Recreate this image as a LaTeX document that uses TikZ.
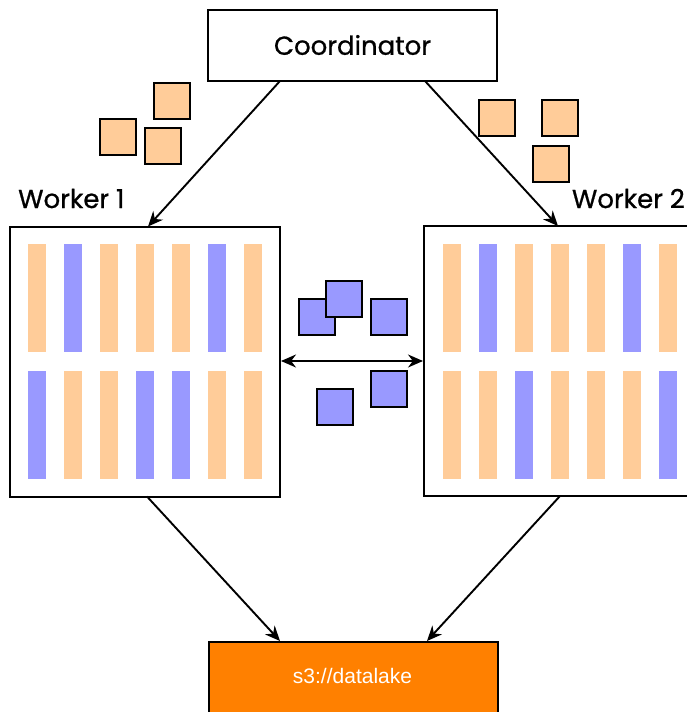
\documentclass[tikz,border=0pt]{standalone}
\usepackage{fontspec}
\newfontfamily\titlefont[FakeBold=0.8]{Poppins}
\newfontfamily\pathfont{Liberation Sans}
\usetikzlibrary{arrows.meta}
\definecolor{peach}{HTML}{FFCC99}
\definecolor{lilac}{HTML}{9999FF}
\definecolor{lakeorange}{HTML}{FF8000}
\tikzset{
  box/.style={draw=black, line width=2pt, fill=white, rectangle, inner sep=0pt},
  chunk/.style={draw=black, line width=1.8pt, minimum size=36pt, inner sep=0pt, anchor=north west},
  bar/.style={minimum width=18pt, minimum height=108pt, inner sep=0pt, anchor=north west},
  flow/.style={line width=1.9pt, -{Stealth[length=15pt,width=13pt]}},
  both/.style={line width=1.9pt, {Stealth[length=15pt,width=13pt]}-{Stealth[length=15pt,width=13pt]}},
  title/.style={font=\titlefont\fontsize{26}{30}\selectfont, inner sep=0pt}
}
\begin{document}
\begin{tikzpicture}[x=1pt, y=-1pt]
\useasboundingbox (0,0) rectangle (687,712);
\clip (0,0) rectangle (687,712);

% coordinator
\node[box, minimum width=289pt, minimum height=71pt] (coord) at (352.5,45.5) {};
\node[title] (coordtext) at (352.5,45) {Coordinator};

% workers
\node[box, minimum width=270pt, minimum height=270pt] (w1) at (145,361.5) {};
\node[box, minimum width=270pt, minimum height=270pt] (w2) at (559,361) {};
\node[title, anchor=base west] (w1lbl) at (18,208) {Worker 1};
\node[title, anchor=base east] (w2lbl) at (685,208) {Worker 2};

% column chunks inside the workers
\foreach \c [count=\i from 0] in {peach,lilac,peach,peach,peach,lilac,peach}
  \node[bar, fill=\c] (w1a\i) at (28+36*\i,244) {};
\foreach \c [count=\i from 0] in {lilac,peach,peach,lilac,lilac,peach,peach}
  \node[bar, fill=\c] (w1b\i) at (28+36*\i,371) {};
\foreach \c [count=\i from 0] in {peach,lilac,peach,peach,peach,lilac,peach}
  \node[bar, fill=\c] (w2a\i) at (443+36*\i,244) {};
\foreach \c [count=\i from 0] in {peach,peach,lilac,peach,peach,peach,lilac}
  \node[bar, fill=\c] (w2b\i) at (443+36*\i,371) {};

% storage
\node[box, fill=lakeorange, minimum width=289pt, minimum height=76pt, anchor=north west] (s3) at (208,641) {};
\node[font=\pathfont\fontsize{21}{24}\selectfont, text=white, inner sep=0pt, anchor=base] (s3text) at (352.5,683) {s3://datalake};

% work assigned by the coordinator
\node[chunk, fill=peach] (pa) at (153,82) {};
\node[chunk, fill=peach] (pb) at (99,118) {};
\node[chunk, fill=peach] (pc) at (144,127) {};
\node[chunk, fill=peach] (pd) at (478,99) {};
\node[chunk, fill=peach] (pe) at (541,99) {};
\node[chunk, fill=peach] (pf) at (532,145) {};

% data exchanged between workers
\node[chunk, fill=lilac] (ba) at (298,298) {};
\node[chunk, fill=lilac] (bb) at (325,280) {};
\node[chunk, fill=lilac] (bc) at (370,298) {};
\node[chunk, fill=lilac] (bd) at (370,370) {};
\node[chunk, fill=lilac] (be) at (316,388) {};

% connector end points on the box borders
\coordinate (cl) at (280,81);
\coordinate (cr) at (425,81);
\coordinate (w1top) at (148,226.5);
\coordinate (w2top) at (558,226);
\coordinate (w1bot) at (147,496.5);
\coordinate (w2bot) at (560,496);
\coordinate (s3l) at (280,641);
\coordinate (s3r) at (427,641);
\coordinate (w1mid) at (w1.east |- 0,361);
\coordinate (w2mid) at (w2.west |- 0,361);

\draw[flow] (cl) -- (w1top);
\draw[flow] (cr) -- (w2top);
\draw[flow] (w1bot) -- (s3l);
\draw[flow] (w2bot) -- (s3r);
\draw[both] (w1mid) -- (w2mid);
\end{tikzpicture}
\end{document}
